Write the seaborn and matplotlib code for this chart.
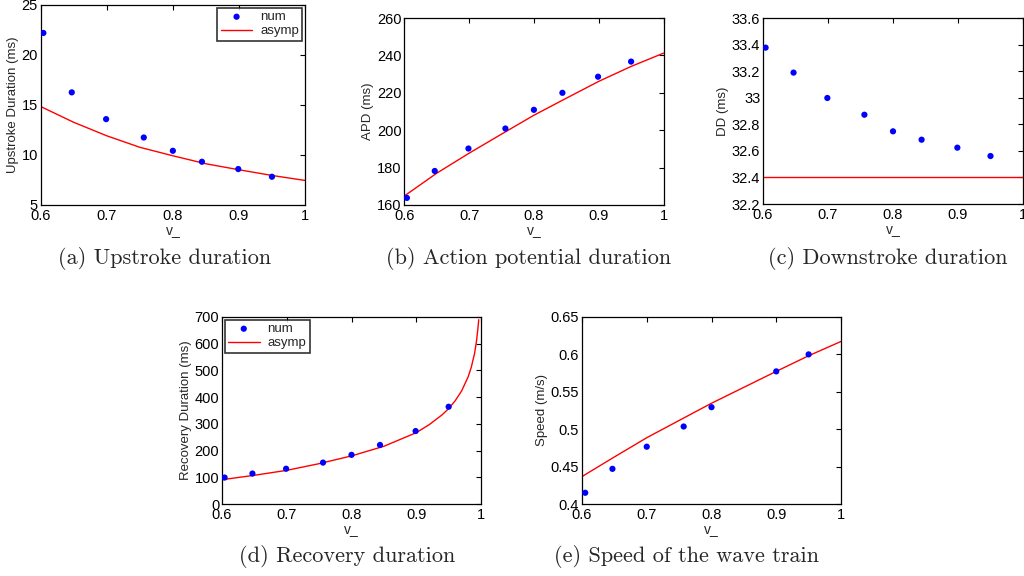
import matplotlib
matplotlib.use("Agg")
import matplotlib.pyplot as plt
import seaborn as sns
from matplotlib.ticker import MultipleLocator, FuncFormatter

sns.set_theme(style="white")
plt.rcParams['font.family'] = ['Liberation Sans', 'DejaVu Sans']

# ---------------- data ----------------
v_num = [0.604, 0.647, 0.699, 0.756, 0.8, 0.844, 0.899, 0.95]
v_num_e = [0.605, 0.647, 0.7, 0.757, 0.8, 0.9, 0.95]

up_num = [22.2, 16.25, 13.57, 11.73, 10.4, 9.3, 8.57, 7.8]
up_curve_v = [0.6, 0.65, 0.7, 0.75, 0.8, 0.85, 0.9, 0.95, 1.0]
up_curve = [14.83, 13.25, 11.9, 10.75, 9.9, 9.1, 8.5, 7.93, 7.43]

apd_num = [163.8, 178.2, 190.2, 200.9, 210.9, 220.0, 228.6, 236.7]
apd_curve_v = [0.6, 0.65, 0.7, 0.75, 0.8, 0.85, 0.9, 0.95, 1.0]
apd_curve = [164.8, 177.0, 187.7, 197.9, 208.0, 217.1, 226.1, 234.1, 241.2]

dd_num = [33.377, 33.189, 32.998, 32.872, 32.747, 32.684, 32.624, 32.561]
dd_curve_v = [0.6, 1.0]
dd_curve = [32.4, 32.4]

rd_num = [99, 114, 132, 155, 184, 221, 273, 364]
rd_curve_v = [0.6, 0.65, 0.7, 0.75, 0.8, 0.85, 0.9, 0.92, 0.94, 0.95, 0.96,
              0.97, 0.98, 0.985, 0.99, 0.993, 0.995, 0.9965]
rd_curve = [91, 107.5, 126, 151, 180, 216, 267, 297, 334, 357, 386,
            423, 475, 512, 563, 609, 652, 690]

sp_num = [0.415, 0.447, 0.4766, 0.5036, 0.5294, 0.5773, 0.600]
sp_curve_v = [0.6, 0.65, 0.7, 0.75, 0.8, 0.85, 0.9, 0.95, 1.0]
sp_curve = [0.4367, 0.4629, 0.4886, 0.5117, 0.5347, 0.556, 0.5773, 0.5982, 0.6173]

captions = ["(a) Upstroke duration", "(b) Action potential duration",
            "(c) Downstroke duration", "(d) Recovery duration",
            "(e) Speed of the wave train"]
ylabels = ["Upstroke Duration (ms)", "APD (ms)", "DD (ms)",
           "Recovery Duration (ms)", "Speed (m/s)"]

W, H = 1024, 576
fig = plt.figure(figsize=(W / 100, H / 100), dpi=100)

def rect(l, r, t, b):
    return [l / W, 1 - b / H, (r - l) / W, (b - t) / H]

rects = [rect(40.7, 305, 5, 204.7), rect(404.3, 663.5, 18, 205),
         rect(763, 1023, 18, 204), rect(222, 481, 317, 504),
         rect(582, 841, 317, 504)]

panels = [
    (v_num, up_num, up_curve_v, up_curve, (5, 25), 5, "upper right"),
    (v_num, apd_num, apd_curve_v, apd_curve, (160, 260), 20, None),
    (v_num, dd_num, dd_curve_v, dd_curve, (32.2, 33.6), 0.2, None),
    (v_num, rd_num, rd_curve_v, rd_curve, (0, 700), 100, "upper left"),
    (v_num_e, sp_num, sp_curve_v, sp_curve, (0.4, 0.65), 0.05, None),
]

fmt = FuncFormatter(lambda x, p: ("%g" % round(x, 6)))

for i, (vx, vy, cx, cy, ylim, ystep, leg) in enumerate(panels):
    ax = fig.add_axes(rects[i])
    sns.scatterplot(x=vx, y=vy, ax=ax, color="blue", s=20, edgecolor="none",
                    label="num", zorder=3)
    sns.lineplot(x=cx, y=cy, ax=ax, color="red", lw=1.0, label="asymp",
                 zorder=2)
    ax.set_xlim(0.6, 1.0)
    ax.set_ylim(*ylim)
    ax.xaxis.set_major_locator(MultipleLocator(0.1))
    ax.yaxis.set_major_locator(MultipleLocator(ystep))
    ax.xaxis.set_major_formatter(fmt)
    ax.yaxis.set_major_formatter(fmt)
    ax.tick_params(direction="in", top=True, right=True, length=3.5,
                   width=0.8, labelsize=10.5, colors="black", pad=2)
    ax.tick_params(axis="x", pad=3)
    for s in ax.spines.values():
        s.set_color("black")
        s.set_linewidth(0.9)
    ax.set_xlabel("v_", fontsize=10, labelpad=0)
    ax.set_ylabel(ylabels[i], fontsize=9.5, labelpad=2)
    if leg:
        lg = ax.legend(loc=leg, fontsize=9.5, frameon=True, fancybox=False,
                       borderaxespad=0.2, handlelength=2.4, borderpad=0.25,
                       labelspacing=0.15, handletextpad=0.6)
        lg.get_frame().set_edgecolor("black")
        lg.get_frame().set_linewidth(1.2)
    else:
        ax.get_legend().remove()

cap_pos = [(165, 258), (529, 258), (888, 258), (347, 557), (687, 557)]
for (x, y), c in zip(cap_pos, captions):
    fig.text(x / W, 1 - y / H, c, ha="center", va="center", fontsize=16,
             family=["cmr10", "DejaVu Serif"])

fig.savefig("out.png", dpi=100)
